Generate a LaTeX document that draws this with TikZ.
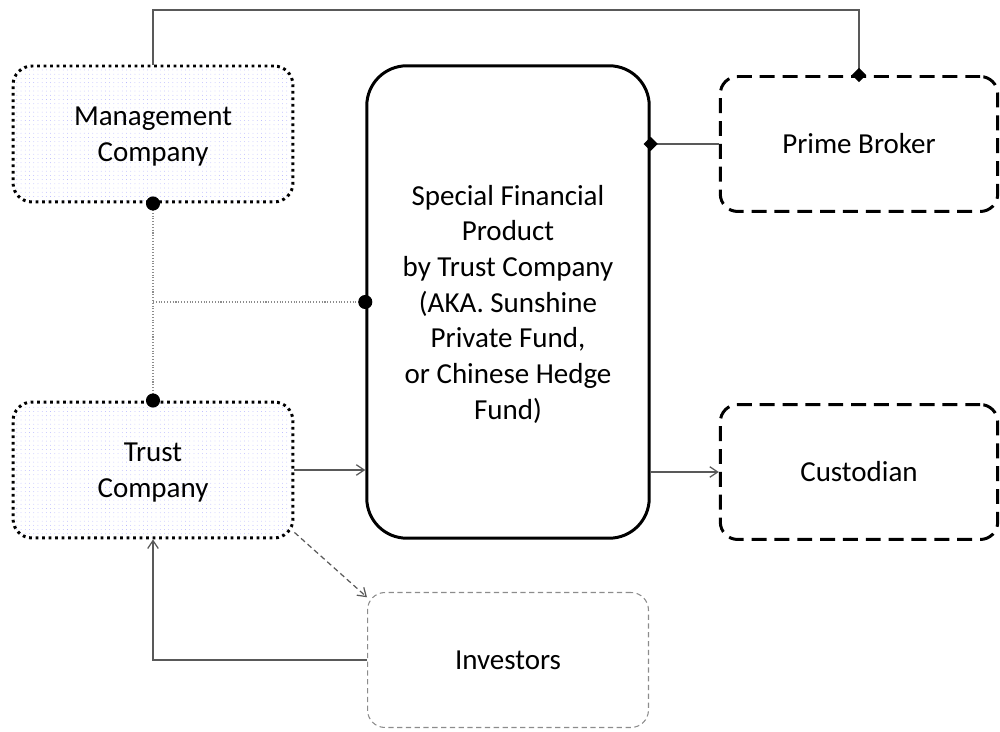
\documentclass[tikz,border=0pt]{standalone}
\usepackage{fontspec}
\setmainfont{Carlito}
\usetikzlibrary{arrows.meta,%
                patterns.meta}

\begin{document}
\begin{tikzpicture}[x=0.02cm,y=-0.02cm,font=\fontsize{16.5}{20.6}\selectfont]
		\useasboundingbox (0,0) rectangle (1000,732);
		\tikzset{FirmStyle/.style = {draw=black,line width=1.7pt,dash pattern=on 1.6pt off 2.1pt,
			rounded corners=0.38cm,minimum width=5.6cm,minimum height=2.72cm,align=center,text depth=0pt,
			pattern={Dots[radius=0.22pt,distance=2.4pt]},pattern color=blue!35}}
		\tikzset{AgentStyle/.style = {draw=black,line width=1.7pt,dash pattern=on 8.5pt off 4.5pt,
			rounded corners=0.35cm,minimum width=5.55cm,minimum height=2.7cm,align=center}}
		%\tikzset{AgentStyle/.append style = {draw=darkgray}}
		\node[FirmStyle] (mgmt) at (153,134) {Management\\Company};
		\node[FirmStyle] (trust) at (153,470) {Trust\\Company};
		{
			\tikzset{ProductStyle/.style = {draw=black,line width=1.7pt,rounded corners=0.8cm,
				minimum width=5.65cm,minimum height=9.45cm,align=center,font=\fontsize{16.5}{20.3}\selectfont}}
			\node[ProductStyle,text depth=0pt] (spf) at (508,302) {Special Financial\\Product\\by Trust Company\\(AKA. Sunshine\\Private Fund,\\or Chinese Hedge\\Fund)};
		}
		\node[AgentStyle] (pb) at (859,144) {Prime Broker};
		\node[AgentStyle] (cust) at (859,472) {Custodian};
		{
			\tikzset{InvStyle/.style = {draw=black!45,line width=0.6pt,dash pattern=on 3pt off 2pt,
				rounded corners=0.35cm,minimum width=5.62cm,minimum height=2.7cm}}
			\node[InvStyle] (inv) at (508,660) {Investors};
		}
		\tikzstyle{EdgeStyle}=[draw=black!65,line width=0.7pt]
		\tikzstyle{LinkStyle}=[draw=black!45,line width=0.6pt,densely dotted]
		\tikzset{dotend/.style = {-{Circle[length=8pt,color=black]},shorten >=-4pt},
			dotboth/.style = {{Circle[length=8pt,color=black]}-{Circle[length=8pt,color=black]},shorten <=-4pt,shorten >=-4pt},
			diamondend/.style = {-{Diamond[length=8pt,width=8pt,color=black]},shorten >=-4pt},
			openend/.style = {-{Straight Barb[length=4.5pt,width=6pt]}}}
		\draw[EdgeStyle,diamondend] (mgmt.north) -- (mgmt.north |- 0,10) -| (pb.north);
		\draw[EdgeStyle,diamondend] (pb.west) -- (spf.east |- pb.west);
		\draw[LinkStyle,dotboth] (mgmt.south) -- (trust.north);
		\draw[LinkStyle,dotend] (mgmt.south |- spf.west) -- (spf.west);
		\draw[EdgeStyle,openend] (trust.east) -- (spf.west |- trust.east);
		\draw[EdgeStyle,openend] (spf.east |- cust.west) -- (cust.west);
		\draw[EdgeStyle,openend,densely dashed] ([yshift=4pt]trust.south east) -- ([yshift=-3pt]inv.north west);
		\draw[EdgeStyle,openend] (inv.west) -| (trust.south);
	\end{tikzpicture}
\end{document}
